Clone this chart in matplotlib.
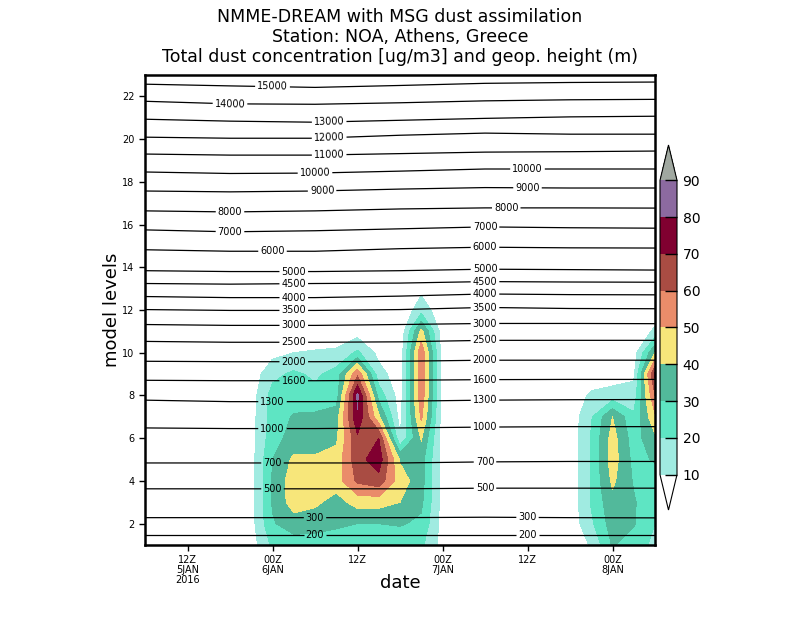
import numpy as np
import matplotlib
matplotlib.use('Agg')
from matplotlib import pyplot as plt

# time axis: hours since 06Z 5 Jan 2016, 3-hourly model output
hours = np.arange(0, 73, 3)
model_levels = np.arange(1, 24)

# dust concentration [ug/m3], one list per time step, model levels 1..14
dust_cols = [
    [2, 2, 2, 2, 2, 2, 1, 1, 1, 0, 0, 0, 0, 0],          # h0
    [2, 2, 2, 2, 2, 2, 1, 1, 1, 0, 0, 0, 0, 0],          # h3
    [2, 2, 2, 2, 2, 2, 1, 1, 1, 0, 0, 0, 0, 0],          # h6
    [3, 3, 3, 3, 3, 3, 2, 2, 1, 0, 0, 0, 0, 0],          # h9
    [4, 4, 4, 4, 4, 4, 3, 3, 2, 1, 0, 0, 0, 0],          # h12
    [5, 6, 6, 6, 6, 6, 6, 5, 4, 2, 0, 0, 0, 0],          # h15
    [22, 29, 31, 31, 30, 26, 24, 24, 17, 7, 2, 0, 0, 0],  # h18 (00Z 6JAN)
    [25, 35, 45, 46, 42, 34, 31, 25, 22, 10, 3, 0, 0, 0],
    [25, 34, 42, 45, 42, 33, 32, 23, 18, 11, 3, 0, 0, 0],
    [24, 32, 36, 45, 44, 38, 35, 25, 24, 12, 3, 0, 0, 0],
    [22, 30, 44, 62, 66, 68, 79, 82, 58, 22, 5, 1, 0, 0],  # h30 (12Z 6JAN)
    [22, 30, 44, 66, 76, 70, 42, 26, 14, 7, 2, 0, 0, 0],
    [23, 31, 40, 45, 39, 11, 6, 5, 4, 3, 2, 1, 0, 0],
    [22, 28, 32, 34, 34, 41, 52, 57, 58, 58, 43, 16, 7, 2],
    [6, 6, 6, 6, 6, 5, 5, 5, 5, 5, 4, 3, 2, 1],          # h42 (00Z 7JAN)
    [3, 3, 3, 3, 3, 3, 2, 2, 2, 2, 1, 1, 0, 0],
    [2, 2, 2, 2, 2, 2, 1, 1, 1, 1, 0, 0, 0, 0],
    [2, 2, 2, 2, 2, 2, 1, 1, 1, 0, 0, 0, 0, 0],
    [2, 2, 2, 2, 2, 2, 2, 1, 1, 0, 0, 0, 0, 0],          # h54 (12Z 7JAN)
    [3, 3, 3, 3, 3, 3, 3, 2, 1, 0, 0, 0, 0, 0],
    [3, 3, 3, 3, 3, 3, 3, 3, 2, 1, 0, 0, 0, 0],
    [11, 18, 21, 21, 21, 21, 19, 12, 3, 1, 0, 0, 0, 0],
    [31, 35, 37, 42, 45, 44, 40, 14, 5, 2, 0, 0, 0, 0],    # h66 (00Z 8JAN)
    [24, 31, 31, 29, 27, 25, 22, 14, 8, 5, 2, 0, 0, 0],
    [18, 20, 22, 25, 31, 38, 48, 60, 72, 40, 12, 3, 1, 0],
]

shade_levels = [10, 20, 30, 40, 50, 60, 70, 80, 90]
shade_colors = ['white', '#a0ebe1', '#5ee5c3', '#52b99b', '#f7e67a',
                '#ea8c6a', '#a94c43', '#800030', '#8c6aa0', '#a0a8a0']

# geopotential height contours: model level where each height sits
heights = [200, 300, 500, 700, 1000, 1300, 1600, 2000, 2500, 3000, 3500,
           4000, 4500, 5000, 6000, 7000, 8000, 9000, 10000, 11000, 12000,
           13000, 14000, 15000]
geo_hours = [0, 12, 24, 36, 48, 60, 72]
geo_levels = [
    [1.49, 1.49, 1.49, 1.49, 1.49, 1.49, 1.49],
    [2.28, 2.28, 2.28, 2.28, 2.30, 2.28, 2.27],
    [3.63, 3.63, 3.63, 3.63, 3.66, 3.66, 3.66],
    [4.84, 4.84, 4.84, 4.84, 4.89, 4.91, 4.91],
    [6.48, 6.45, 6.45, 6.48, 6.52, 6.54, 6.54],
    [7.78, 7.71, 7.71, 7.73, 7.78, 7.80, 7.81],
    [8.71, 8.69, 8.69, 8.71, 8.74, 8.75, 8.75],
    [9.60, 9.58, 9.58, 9.60, 9.65, 9.65, 9.65],
    [10.53, 10.49, 10.49, 10.51, 10.58, 10.58, 10.58],
    [11.32, 11.28, 11.28, 11.32, 11.37, 11.37, 11.36],
    [12.02, 11.98, 11.98, 12.02, 12.12, 12.07, 12.06],
    [12.63, 12.58, 12.58, 12.65, 12.75, 12.72, 12.71],
    [13.24, 13.21, 13.24, 13.26, 13.33, 13.31, 13.30],
    [13.84, 13.80, 13.80, 13.84, 13.91, 13.89, 13.87],
    [14.82, 14.75, 14.75, 14.87, 14.94, 14.91, 14.90],
    [15.75, 15.66, 15.71, 15.80, 15.89, 15.85, 15.83],
    [16.64, 16.59, 16.64, 16.73, 16.78, 16.78, 16.77],
    [17.57, 17.53, 17.57, 17.66, 17.73, 17.71, 17.71],
    [18.46, 18.39, 18.41, 18.50, 18.60, 18.60, 18.60],
    [19.30, 19.25, 19.25, 19.32, 19.39, 19.41, 19.44],
    [20.09, 20.04, 20.04, 20.18, 20.28, 20.23, 20.23],
    [20.93, 20.84, 20.79, 20.88, 20.97, 21.04, 21.07],
    [21.77, 21.65, 21.63, 21.70, 21.79, 21.84, 21.86],
    [22.57, 22.49, 22.42, 22.51, 22.61, 22.65, 22.67],
]
# where the contour labels sit (hours)
label_hours = [
    [24, 54], [24, 54], [18, 48], [18, 48], [18, 48], [18, 48], [21, 48],
    [21, 48], [21, 48], [21, 48], [21, 48], [21, 48], [21, 48], [21, 48],
    [18, 48], [12, 48], [12, 51], [25, 54], [24, 54], [26], [26], [26],
    [12], [18],
]

xtick_hours = [6, 18, 30, 42, 54, 66]
xtick_labels = ['12Z\n5JAN\n2016', '00Z\n6JAN', '12Z', '00Z\n7JAN', '12Z',
                '00Z\n8JAN']
ytick_levels = list(range(2, 23, 2))

title_lines = ['NMME-DREAM with MSG dust assimilation',
               'Station: NOA, Athens, Greece',
               'Total dust concentration [ug/m3] and geop. height (m)']


dust = np.zeros((len(model_levels), len(hours)))
dust[:len(dust_cols[0]), :] = np.array(dust_cols).T

fig = plt.figure(figsize=(8, 6.18), dpi=100)
ax = fig.add_axes([145 / 800, 73 / 618, 510 / 800, 470 / 618])

cs = ax.contourf(hours, model_levels, dust, levels=shade_levels,
                 colors=shade_colors, extend='both')

gx = np.tile(geo_hours, (len(heights), 1))
gy = np.array(geo_levels)
gz = np.tile(np.array(heights, dtype=float)[:, None], (1, len(geo_hours)))
# nudge thresholds off the grid rows so the outer lines are kept
clev = np.array(heights, dtype=float) + 0.01
clev[-1] -= 0.02
lines = ax.contour(gx, gy, gz, levels=clev, colors='k', linewidths=0.9)

positions = []
for i, hrs in enumerate(label_hours):
    for h in hrs:
        positions.append((h, np.interp(h, geo_hours, geo_levels[i])))
ax.clabel(lines, manual=positions, inline=True, inline_spacing=2,
          fontsize=7, fmt=lambda v: '%d' % round(v))

ax.set_xlim(0, 72)
ax.set_ylim(1, 23)
ax.set_xticks(xtick_hours)
ax.set_xticklabels(xtick_labels, linespacing=0.95)
ax.set_yticks(ytick_levels)
ax.tick_params(direction='out', length=4, width=1, labelsize=7)
for sp in ax.spines.values():
    sp.set_linewidth(1.8)

ax.set_xlabel('date', fontsize=13, labelpad=-8)
ax.set_ylabel('model levels', fontsize=13, labelpad=1)

for i, t in enumerate(title_lines):
    fig.text(0.5, 1 - (17 + 20 * i) / 618, t, ha='center', va='center',
             fontsize=12.5)

# colour key: the triangles are drawn inside the axes box
cax = fig.add_axes([660 / 800, (618 - 510) / 618, 17 / 800, 365 / 618])
cb = fig.colorbar(cs, cax=cax, extendfrac=0.12, ticks=shade_levels)
cb.ax.tick_params(direction='in', length=9, width=1, labelsize=10, pad=4)
cb.outline.set_linewidth(0.8)

fig.savefig('out.png', dpi=100)
